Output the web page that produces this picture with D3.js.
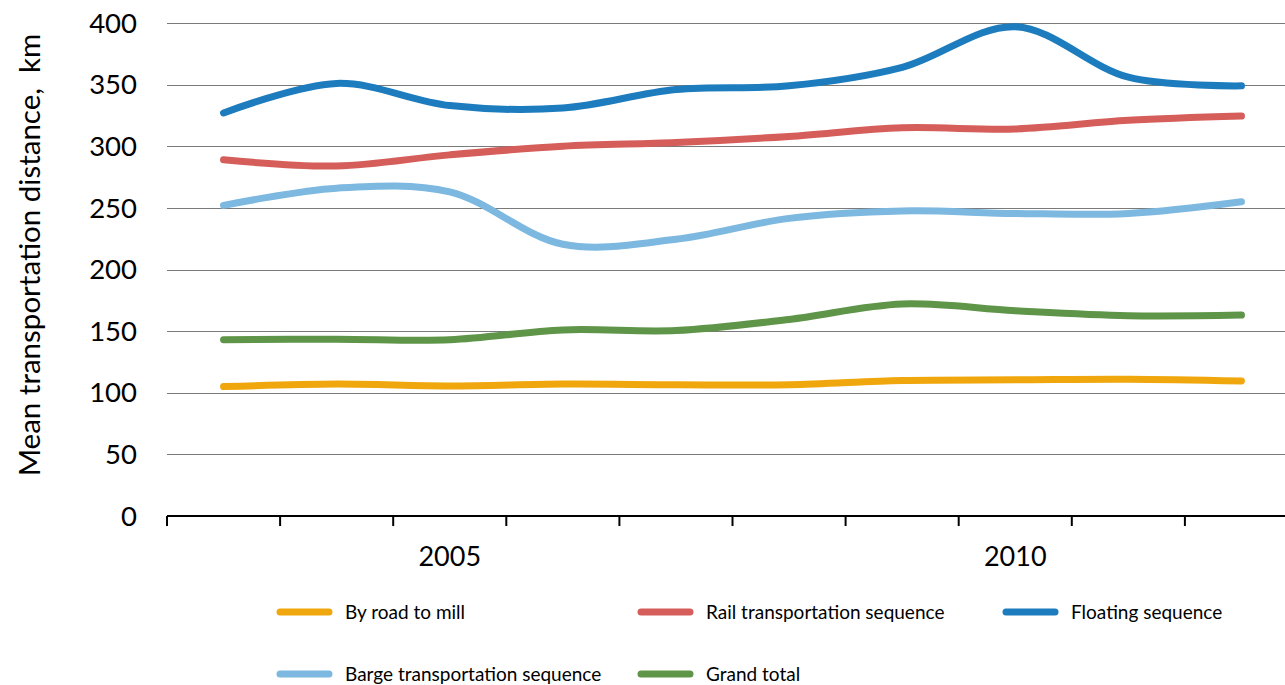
<!DOCTYPE html>
<html>
<head>
<meta charset="utf-8">
<script src="https://cdn.jsdelivr.net/npm/d3@7"></script>
<style>
  body { margin: 0; background: #fff; }
  svg { display: block; font-family: Lato, "Open Sans", sans-serif; }
</style>
</head>
<body>
<div id="chart"></div>
<script>
// data
var years = ["2003", "2004", "2005", "2006", "2007", "2008", "2009", "2010", "2011", "2012"];
var yearLabels = ["2005", "2010"];
var yTicks = [0, 50, 100, 150, 200, 250, 300, 350, 400];

var byRoad   = [105, 107, 105.5, 107, 106.5, 106.5, 110, 110.5, 111, 109.5];
var rail     = [289, 284, 293, 300, 303, 308, 315, 314, 321, 324.5];
var floating = [327, 351, 333, 331, 346, 349, 364, 397, 356, 349];
var barge    = [252, 266, 263, 220.5, 224.5, 241.5, 247.5, 245.5, 245.5, 255];
var grand    = [143, 143.5, 143, 151, 150.5, 159.5, 172, 166.5, 162.5, 163];

var seriesNames = ["By road to mill", "Rail transportation sequence", "Floating sequence",
                   "Barge transportation sequence", "Grand total"];
var seriesColors = ["#f0a70e", "#d55e5b", "#1d7cbd", "#7cb8e0", "#5e9548"];
var seriesValues = [byRoad, rail, floating, barge, grand];

var svgWidth = 1285, svgHeight = 685;
var margin = { top: 23, right: -13, bottom: 169, left: 167 };
var width = svgWidth - margin.left - margin.right;
var height = svgHeight - margin.top - margin.bottom;

var svg = d3.select("#chart").append("svg")
  .attr("width", svgWidth)
  .attr("height", svgHeight);

var chartGroup = svg.append("g")
  .attr("transform", `translate(${margin.left}, ${margin.top})`);

var x = d3.scaleBand().domain(years).range([0, width]);
var y = d3.scaleLinear().domain([0, 400]).range([height, 0]);

// gridlines
chartGroup.append("g")
  .selectAll("line")
  .data(yTicks.filter(function (d) { return d > 0; }))
  .enter()
  .append("line")
  .attr("x1", 0)
  .attr("x2", width)
  .attr("y1", function (d) { return Math.round(y(d)) + 0.5; })
  .attr("y2", function (d) { return Math.round(y(d)) + 0.5; })
  .attr("stroke", "#7a7a7a")
  .attr("stroke-width", 1.2);

// y tick labels (no axis line)
chartGroup.append("g")
  .selectAll("text")
  .data(yTicks)
  .enter()
  .append("text")
  .attr("x", -30)
  .attr("y", function (d) { return y(d); })
  .attr("dy", "0.35em")
  .attr("text-anchor", "end")
  .style("font-size", "27.5px")
  .style("fill", "#000")
  .text(function (d) { return d; });

// x axis with ticks on band edges
var xAxisG = chartGroup.append("g").attr("transform", `translate(0, ${height})`);
xAxisG.append("line")
  .attr("x1", 0).attr("x2", width)
  .attr("y1", 0).attr("y2", 0)
  .attr("stroke", "#000").attr("stroke-width", 2);
xAxisG.selectAll(".tick")
  .data(years)
  .enter()
  .append("line")
  .attr("class", "tick")
  .attr("x1", function (d) { return x(d); })
  .attr("x2", function (d) { return x(d); })
  .attr("y1", 0).attr("y2", 10)
  .attr("stroke", "#000").attr("stroke-width", 2);
xAxisG.selectAll(".xlab")
  .data(yearLabels)
  .enter()
  .append("text")
  .attr("class", "xlab")
  .attr("x", function (d) { return x(d) + x.bandwidth() / 2; })
  .attr("y", 50)
  .attr("text-anchor", "middle")
  .style("font-size", "27px")
  .text(function (d) { return d; });

// lines
var line = d3.line()
  .x(function (d, i) { return x(years[i]) + x.bandwidth() / 2; })
  .y(function (d) { return y(d); })
  .curve(d3.curveCatmullRom.alpha(0.5));

chartGroup.append("g")
  .selectAll("path")
  .data(seriesValues)
  .enter()
  .append("path")
  .attr("d", line)
  .attr("fill", "none")
  .attr("stroke", function (d, i) { return seriesColors[i]; })
  .attr("stroke-width", 7)
  .attr("stroke-linecap", "round")
  .attr("stroke-linejoin", "round");

// y axis title
svg.append("text")
  .attr("transform", "translate(40, 255) rotate(-90)")
  .attr("text-anchor", "middle")
  .style("font-size", "29.5px")
  .style("white-space", "pre")
  .text("Mean transportation distance,  km");

// legend
var legendPos = [[277, 612], [638, 612], [1003, 612], [277, 674], [638, 674]];
var legend = svg.append("g")
  .selectAll("g")
  .data(seriesNames)
  .enter()
  .append("g")
  .attr("transform", function (d, i) { return `translate(${legendPos[i][0]}, ${legendPos[i][1]})`; });

legend.append("line")
  .attr("x1", 3).attr("x2", 52)
  .attr("y1", 0).attr("y2", 0)
  .attr("stroke", function (d, i) { return seriesColors[i]; })
  .attr("stroke-width", 7)
  .attr("stroke-linecap", "round");

legend.append("text")
  .attr("x", 68)
  .attr("y", 0)
  .attr("dy", "0.35em")
  .style("font-size", "19px")
  .text(function (d) { return d; });
</script>
</body>
</html>
